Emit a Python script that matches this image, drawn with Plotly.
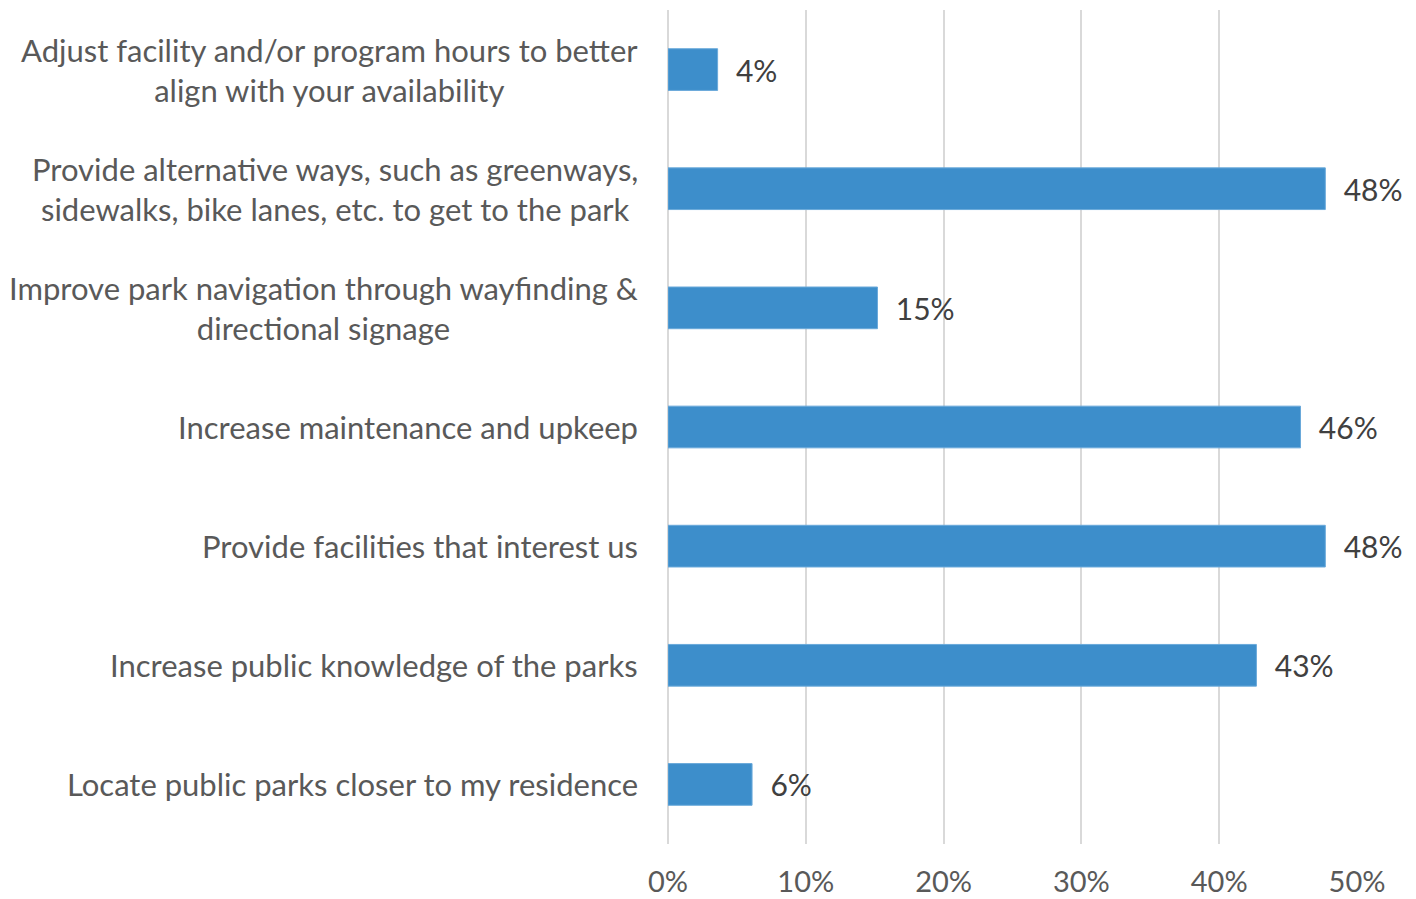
import plotly.graph_objects as go

categories = [
    "Adjust facility and/or program hours to better<br>align with your availability",
    "Provide alternative ways, such as greenways,<br>sidewalks, bike lanes, etc. to get to the park",
    "Improve park navigation through wayfinding &<br>directional signage",
    "Increase maintenance and upkeep",
    "Provide facilities that interest us",
    "Increase public knowledge of the parks",
    "Locate public parks closer to my residence",
]
values = [3.6, 47.7, 15.2, 45.9, 47.7, 42.7, 6.1]
labels = ["4%", "48%", "15%", "46%", "48%", "43%", "6%"]
tick_vals = [0, 10, 20, 30, 40, 50]
tick_text = ["0%", "10%", "20%", "30%", "40%", "50%"]

font_family = "Lato, 'Open Sans', sans-serif"

fig = go.Figure(go.Bar(
    x=values,
    y=categories,
    orientation="h",
    marker=dict(color="#3d8ecb", line=dict(color="#6aa9da", width=1)),
    text=labels,
    texttemplate="  %{text}",
    textposition="outside",
    textfont=dict(family=font_family, size=30, color="#404040"),
    cliponaxis=False,
))

# category labels, centred lines, right edge next to the axis
for cat in categories:
    fig.add_annotation(
        x=0, xref="paper", y=cat, yref="y",
        text=cat, showarrow=False,
        xanchor="right", align="center", xshift=-28,
        font=dict(family=font_family, size=31, color="#595959"),
    )

fig.update_layout(
    width=1416, height=899,
    margin=dict(l=660, r=67, t=2, b=63),
    plot_bgcolor="white", paper_bgcolor="white",
    bargap=0.65,
    showlegend=False,
    xaxis=dict(
        range=[0, 50], tickvals=tick_vals, ticktext=tick_text,
        showgrid=True, gridcolor="#d9d9d9", gridwidth=2,
        zeroline=True, zerolinecolor="#d9d9d9", zerolinewidth=2,
        ticklabelstandoff=18, automargin=False,
        tickfont=dict(family=font_family, size=29, color="#595959"),
    ),
    yaxis=dict(
        autorange="reversed", showticklabels=False, showgrid=False,
    ),
)

fig.write_html("out.html")
